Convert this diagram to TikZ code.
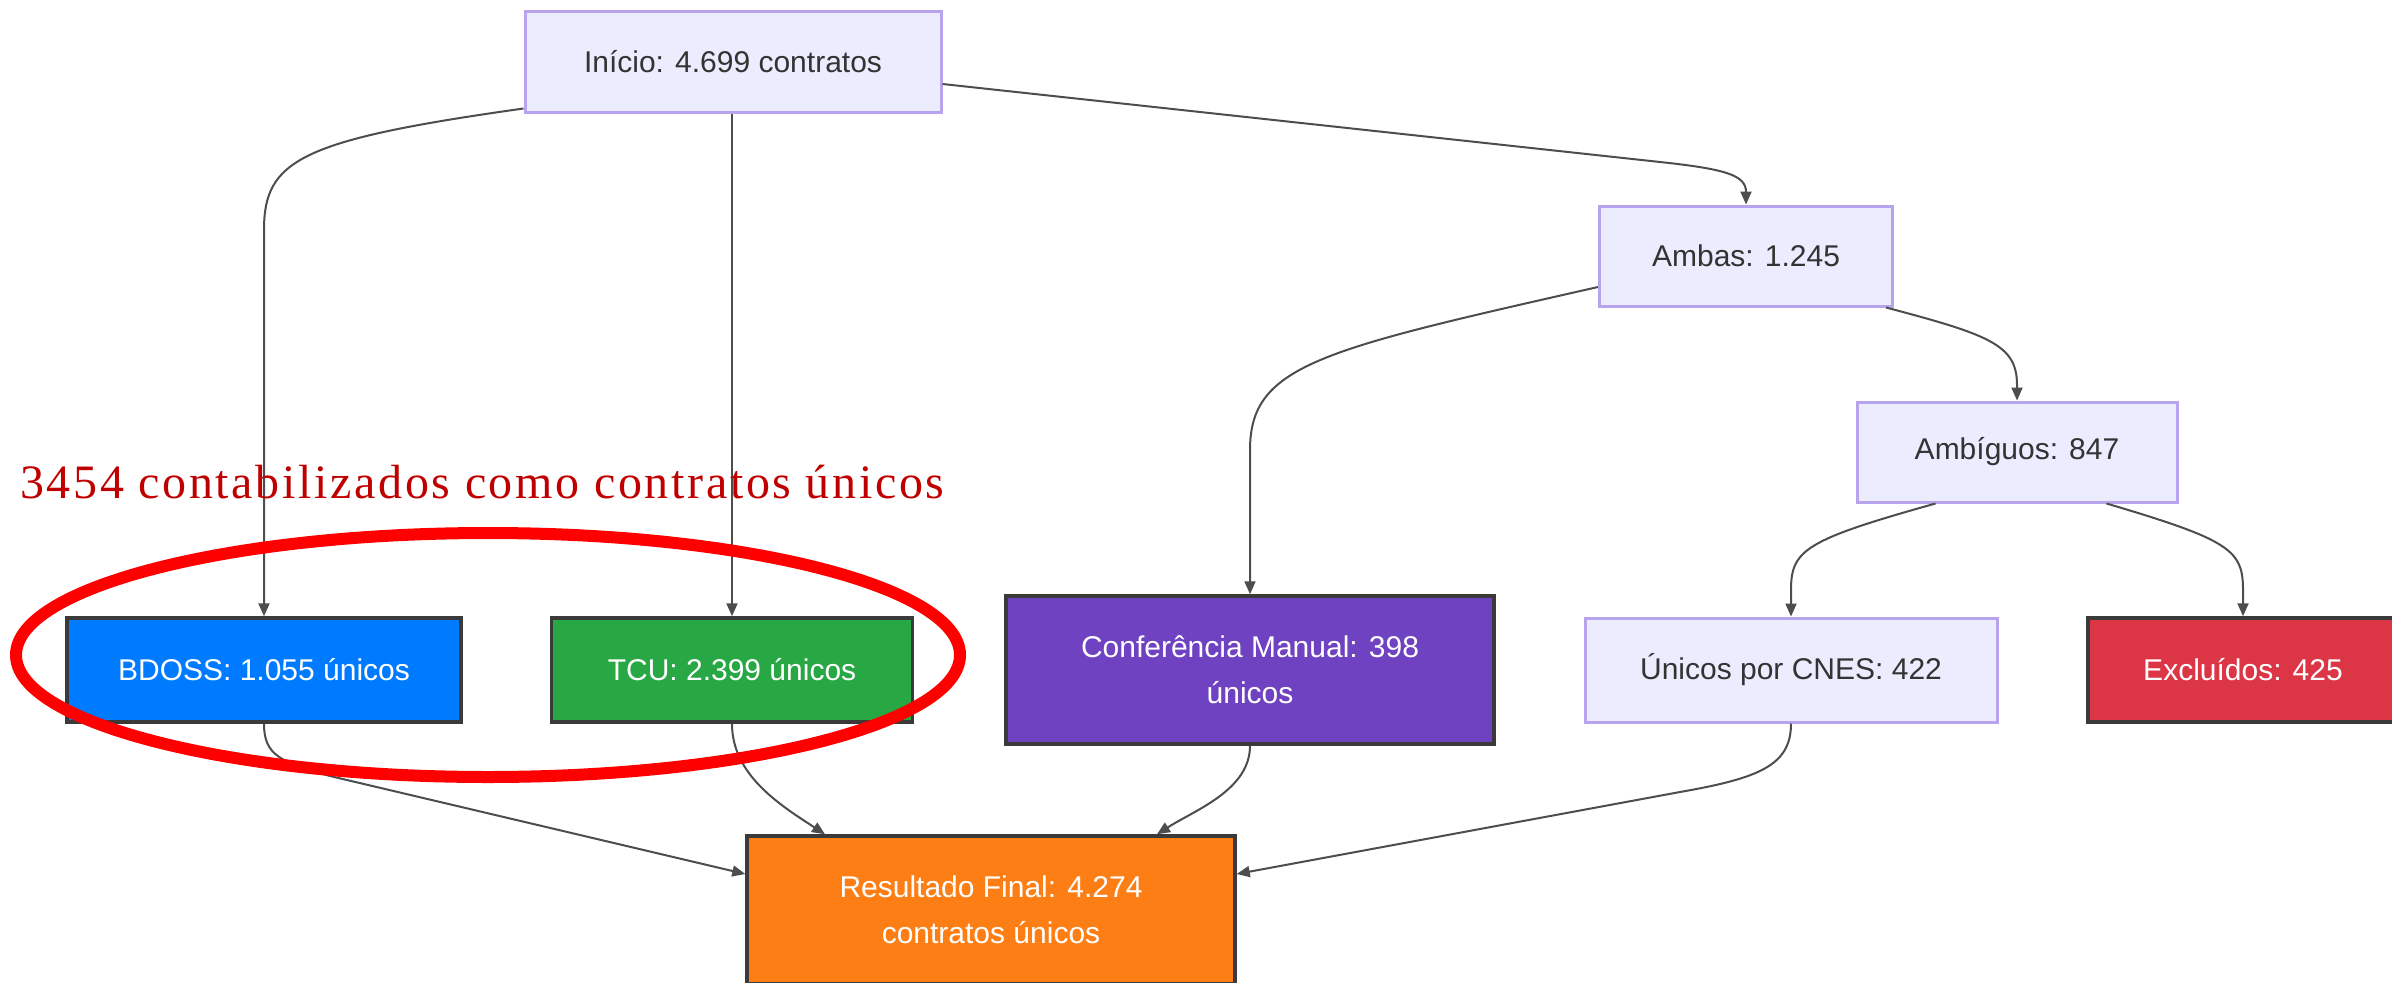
\documentclass[tikz,border=0pt]{standalone}
\usepackage{fontspec}
\setmainfont{Liberation Sans}
\newfontfamily\notefont[LetterSpace=5.5]{Liberation Serif}
\usetikzlibrary{arrows.meta}

\definecolor{lavfill}{HTML}{ECECFF}
\definecolor{lavline}{HTML}{B8A4EC}
\definecolor{textgray}{HTML}{333333}
\definecolor{boxline}{HTML}{3A3A3A}
\definecolor{edgegray}{HTML}{4D4D4D}
\definecolor{bdossblue}{HTML}{007BFF}
\definecolor{tcugreen}{HTML}{28A745}
\definecolor{confpurple}{HTML}{6F42C1}
\definecolor{exclred}{HTML}{DC3545}
\definecolor{resorange}{HTML}{FD7E14}
\definecolor{notered}{HTML}{C00000}

\begin{document}
\begin{tikzpicture}[x=1pt, y=-1pt,
    box/.style={rectangle, inner sep=0pt, align=center, font=\fontsize{30}{46}\selectfont},
    plainbox/.style={box, fill=lavfill, draw=lavline, line width=3pt, text=textgray},
    colbox/.style={box, draw=boxline, line width=3.5pt, text=white},
    flow/.style={draw=edgegray, line width=2pt, -{Triangle[length=13pt,width=11pt]}},
    circlemark/.style={draw=red, line width=12pt}
  ]
  \useasboundingbox (0,0) rectangle (2392,982);

  % Boxes
  \node[plainbox, minimum width=416pt, minimum height=100pt] (inicio) at (733,62) {Início: 4.699 contratos};
  \node[plainbox, minimum width=293pt, minimum height=100pt] (ambas) at (1746,256) {Ambas: 1.245};
  \node[plainbox, minimum width=320pt, minimum height=100pt] (ambig) at (2017,452) {Ambíguos: 847};
  \node[colbox, fill=bdossblue, minimum width=394pt, minimum height=104pt] (bdoss) at (264,670) {BDOSS: 1.055 únicos};
  \node[colbox, fill=tcugreen, minimum width=361pt, minimum height=104pt] (tcu) at (732,670) {TCU: 2.399 únicos};
  \node[colbox, fill=confpurple, minimum width=488pt, minimum height=148pt] (conf) at (1250,670) {Conferência Manual: 398\\únicos};
  \node[plainbox, minimum width=412pt, minimum height=104pt] (cnes) at (1791,670) {Únicos por CNES: 422};
  \node[colbox, fill=exclred, minimum width=310pt, minimum height=104pt] (excl) at (2243,670) {Excluídos: 425};
  \node[colbox, fill=resorange, minimum width=488pt, minimum height=148pt] (result) at (991,910) {Resultado Final: 4.274\\contratos únicos};

  % From the start
  \draw[flow] ([yshift=5pt]inicio.south west) .. controls (300,140) and (bdoss.north |- 0,160) .. (bdoss.north |- 0,230) -- (bdoss.north);
  \draw[flow] (inicio.south -| tcu.north) -- (tcu.north);
  \draw[flow] ([yshift=-22pt]inicio.east) -- (1660,162) .. controls (1725,169) and (ambas.north |- 0,175) .. (ambas.north);

  % Both sources
  \draw[flow] ([yshift=-31pt]ambas.west) .. controls (1320,350) and (conf.north |- 0,365) .. (conf.north |- 0,450) -- (conf.north);
  \draw[flow] ([xshift=-8pt]ambas.south east) .. controls (1990,335) and (ambig.north |- 0,345) .. (ambig.north |- 0,385) -- (ambig.north);

  % Ambiguous ones
  \draw[flow] ([xshift=80pt]ambig.south west) .. controls (1805,540) and (cnes.north |- 0,550) .. (cnes.north |- 0,590) -- (cnes.north);
  \draw[flow] ([xshift=-72pt]ambig.south east) .. controls (2230,540) and (excl.north |- 0,550) .. (excl.north |- 0,590) -- (excl.north);

  % Into the final result
  \draw[flow] (bdoss.south) .. controls (bdoss.south |- 0,755) and (280,762) .. (330,776) -- ([yshift=36pt]result.west);
  \draw[flow] (tcu.south) .. controls (tcu.south |- 0,775) and (780,805) .. ([xshift=-166pt]result.north);
  \draw[flow] (conf.south) .. controls (conf.south |- 0,790) and (1195,810) .. ([xshift=166pt]result.north);
  \draw[flow] (cnes.south) .. controls (cnes.south |- 0,765) and (1760,778) .. (1680,792) -- ([yshift=36pt]result.east);

  % Note and red mark
  \node[anchor=base west, inner sep=0pt, text=notered, font=\notefont\fontsize{48}{48}\selectfont] (note) at (20,498) {3454 contabilizados como contratos únicos};
  \draw[circlemark] (488,655) ellipse [x radius=472pt, y radius=122pt];
\end{tikzpicture}
\end{document}
